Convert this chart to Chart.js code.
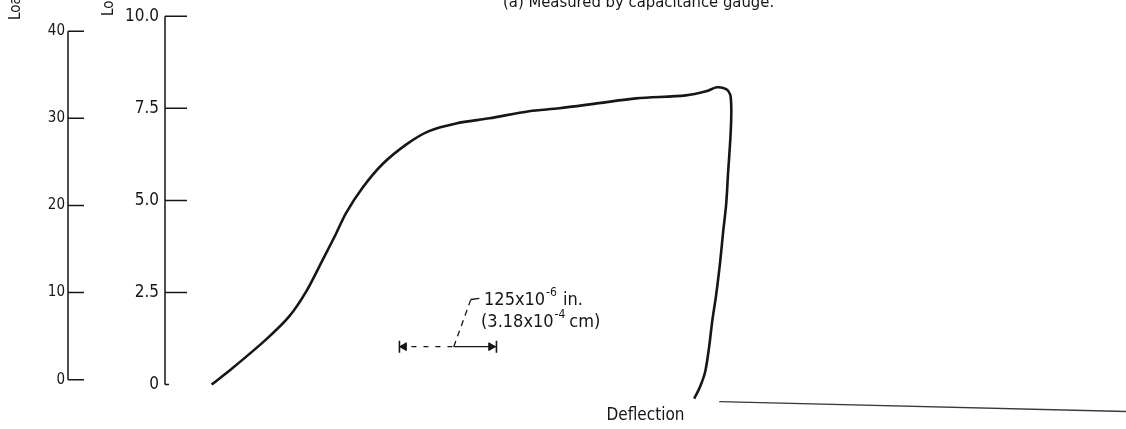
<!DOCTYPE html>
<html>
<head>
<meta charset="utf-8">
<title>Load vs deflection</title>
<script src="https://cdn.jsdelivr.net/npm/chart.js@4.4.1/dist/chart.umd.min.js"></script>
<style>
  html, body { margin: 0; padding: 0; background: #fff; }
  #wrap { width: 1126px; height: 429px; }
</style>
</head>
<body>
<div id="wrap"><canvas id="load_chart"></canvas></div>
<script>
// deflection read in 10^-6 in. (scale bar = 125), load in 1000 lb
var deflection = [60, 86, 130, 160, 182, 202, 220, 233, 254, 280, 311, 340, 375, 418, 469, 508, 559, 607, 671, 697, 711, 723, 728, 729.4, 729.4, 728.1, 725.5, 722.9, 719.1, 715.2, 710.1, 704.9, 701, 695.9, 689.4, 681.7];
var load = [0, 0.43, 1.22, 1.85, 2.53, 3.34, 4.08, 4.65, 5.33, 5.98, 6.52, 6.88, 7.09, 7.23, 7.42, 7.50, 7.64, 7.77, 7.85, 7.96, 8.07, 8.02, 7.88, 7.61, 7.20, 6.60, 5.79, 4.89, 4.16, 3.34, 2.45, 1.71, 1.03, 0.35, -0.05, -0.38];

// stray baseline at the bottom right of the scan
var baseX = [714, 1238];
var baseY = [-0.46, -0.73];

// 125x10^-6 in. scale bar and its leader
var barX = [302, 372, 427];
var barY = 1.03;
var leaderX = [372, 394, 405];
var leaderY = [1.03, 2.31, 2.34];

var kNTicks = [0, 10, 20, 30, 40];
var lbTicks = [0, 2.5, 5, 7.5, 10];
var lbLabels = ["0", "2.5", "5.0", "7.5", "10.0"];

var ink = "#161616";
var fam = "'DejaVu Sans Condensed', 'Liberation Sans Narrow', 'DejaVu Sans', sans-serif";
Chart.defaults.font.family = fam;
Chart.defaults.color = ink;

function pts(xs, ys) {
  return xs.map(function (x, i) { return { x: x, y: Array.isArray(ys) ? ys[i] : ys }; });
}

// hand-drawn looking axes: line between the end ticks, ticks pointing right
var handAxes = {
  id: "handAxes",
  afterDraw: function (chart) {
    var ctx = chart.ctx;
    var sy = chart.scales.y, sy1 = chart.scales.y1, sx = chart.scales.x;
    ctx.save();
    ctx.strokeStyle = ink;
    ctx.lineWidth = 1.5;

    var ax = sy.right;
    ctx.beginPath();
    ctx.moveTo(ax, sy.getPixelForValue(0));
    ctx.lineTo(ax, sy.getPixelForValue(40));
    kNTicks.forEach(function (v) {
      var p = sy.getPixelForValue(v);
      ctx.moveTo(ax, p);
      ctx.lineTo(ax + 16, p);
    });
    ctx.stroke();

    var bx = sy1.right;
    ctx.beginPath();
    ctx.moveTo(bx, sy1.getPixelForValue(0));
    ctx.lineTo(bx, sy1.getPixelForValue(10));
    lbTicks.forEach(function (v) {
      var p = sy1.getPixelForValue(v);
      ctx.moveTo(bx, p);
      ctx.lineTo(bx + (v === 0 ? 4 : 22), p);
    });
    ctx.stroke();

    // axis titles, cut off at the top like the scan
    ctx.fillStyle = ink;
    ctx.font = "15px " + fam;
    ctx.textAlign = "left";
    ctx.textBaseline = "alphabetic";
    ctx.save();
    ctx.translate(20, 20);
    ctx.rotate(-Math.PI / 2);
    ctx.fillText("Load, kN", 0, 0);
    ctx.restore();
    ctx.save();
    ctx.translate(113, 16);
    ctx.rotate(-Math.PI / 2);
    ctx.fillText("Load, lb x 10³", 0, 0);
    ctx.restore();

    // caption
    ctx.font = "16.5px " + fam;
    ctx.fillText("(a) Measured by capacitance gauge.", 503, 7);

    // scale bar note
    var tx = sx.getPixelForValue(411);
    var t1 = sy1.getPixelForValue(2.15);
    var t2 = sy1.getPixelForValue(1.55);
    ctx.font = "18px " + fam;
    var w = ctx.measureText("125x10").width;
    ctx.fillText("125x10", tx, t1);
    ctx.font = "12px " + fam;
    ctx.fillText("-6", tx + w + 1, t1 - 9);
    var w2 = ctx.measureText("-6").width;
    ctx.font = "18px " + fam;
    ctx.fillText("in.", tx + w + w2 + 7, t1);

    var tx2 = tx - 3;
    var w3 = ctx.measureText("(3.18x10").width;
    ctx.fillText("(3.18x10", tx2, t2);
    ctx.font = "12px " + fam;
    ctx.fillText("-4", tx2 + w3 + 1, t2 - 9);
    var w4 = ctx.measureText("-4").width;
    ctx.font = "18px " + fam;
    ctx.fillText("cm)", tx2 + w3 + w4 + 5, t2);
    ctx.restore();
  }
};

var ctx = document.getElementById("load_chart").getContext("2d");
var load_chart = new Chart(ctx, {
  type: "line",
  data: {
    datasets: [
      {
        label: "Load",
        data: pts(deflection, load),
        yAxisID: "y1",
        borderColor: ink,
        borderWidth: 2.6,
        pointRadius: 0,
        tension: 0.3,
        fill: false,
        clip: false,
      },
      {
        label: "baseline",
        data: pts(baseX, baseY),
        yAxisID: "y1",
        borderColor: "#3a3a3a",
        borderWidth: 1.3,
        pointRadius: 0,
        clip: false,
      },
      {
        label: "bar dashed",
        data: pts(barX.slice(0, 2), barY),
        yAxisID: "y1",
        borderColor: ink,
        borderWidth: 1.3,
        borderDash: [5, 7],
        pointRadius: 0,
      },
      {
        label: "bar solid",
        data: pts(barX.slice(1), barY),
        yAxisID: "y1",
        borderColor: ink,
        borderWidth: 1.4,
        pointRadius: 0,
      },
      {
        label: "leader",
        data: pts(leaderX.slice(0, 2), leaderY.slice(0, 2)),
        yAxisID: "y1",
        borderColor: ink,
        borderWidth: 1.3,
        borderDash: [6, 5],
        pointRadius: 0,
      },
      {
        label: "leader tick",
        data: pts(leaderX.slice(1), leaderY.slice(1)),
        yAxisID: "y1",
        borderColor: ink,
        borderWidth: 1.3,
        pointRadius: 0,
      },
      {
        label: "arrows",
        type: "scatter",
        data: pts([308, 420], barY),
        yAxisID: "y1",
        pointStyle: "triangle",
        pointRotation: [-90, 90],
        pointRadius: 4.5,
        backgroundColor: ink,
        borderColor: ink,
        borderWidth: 1,
      },
      {
        label: "ends",
        type: "scatter",
        data: pts([barX[0], barX[2]], barY),
        yAxisID: "y1",
        pointStyle: "line",
        pointRotation: 90,
        pointRadius: 6,
        borderColor: ink,
        borderWidth: 1.6,
      },
    ],
  },
  options: {
    responsive: true,
    maintainAspectRatio: false,
    animation: false,
    devicePixelRatio: 1,
    layout: { autoPadding: false, padding: { top: 15, right: 0, bottom: 0, left: 0 } },
    plugins: {
      legend: { display: false },
      tooltip: { enabled: false },
    },
    scales: {
      x: {
        type: "linear",
        min: 0,
        max: 1238,
        grid: { display: false, drawTicks: false },
        border: { display: false },
        ticks: { display: false, padding: 0 },
        title: {
          display: true,
          text: "Deflection",
          font: { size: 17 },
          padding: { top: 0, bottom: 3 },
        },
      },
      y: {
        position: "left",
        weight: 1,
        min: -2.98,
        max: 41.72,
        grid: { display: false, drawTicks: false },
        border: { display: false },
        afterBuildTicks: function (scale) {
          scale.ticks = kNTicks.map(function (v) { return { value: v }; });
        },
        afterFit: function (scale) { scale.width = 68; },
        ticks: {
          padding: 3,
          font: { size: 15 },
          callback: function (value) { return String(value); },
        },
      },
      y1: {
        position: "left",
        weight: 0,
        min: -0.57,
        max: 10,
        grid: { display: false, drawTicks: false },
        border: { display: false },
        afterBuildTicks: function (scale) {
          scale.ticks = lbTicks.map(function (v) { return { value: v }; });
        },
        afterFit: function (scale) { scale.width = 97; },
        ticks: {
          padding: 6,
          font: { size: 17 },
          callback: function (value, index) { return lbLabels[index]; },
        },
      },
    },
  },
  plugins: [handAxes],
});
</script>
</body>
</html>
